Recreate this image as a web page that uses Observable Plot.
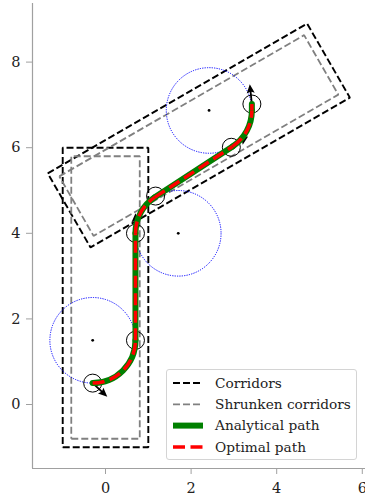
<!DOCTYPE html>
<html><head><meta charset="utf-8">
<script src="https://cdn.jsdelivr.net/npm/d3@7"></script>
<script src="https://cdn.jsdelivr.net/npm/@observablehq/plot@0.6"></script>
<style>
body{margin:0;background:#fff;}
#wrap{position:relative;width:365px;height:502px;overflow:hidden;}
#legend{position:absolute;left:166px;top:369px;width:191px;height:91px;border:1px solid #d4d4d4;border-radius:3px;background:rgba(255,255,255,0.85);box-sizing:border-box;}
</style></head>
<body><div id="wrap"></div>
<script>
// ---- data ----
const xTicks = [0, 2, 4, 6];
const yTicks = [0, 2, 4, 6, 8];
const xDomain = [-1.706, 6.075];
const yDomain = [-1.495, 9.369];

const corridorA = [[-1, -1], [1, -1], [1, 6], [-1, 6], [-1, -1]];
const corridorB = [[-1.35, 5.40], [4.71, 8.90], [5.71, 7.17], [-0.35, 3.67], [-1.35, 5.40]];
const shrunkA = [[-0.8, -0.8], [0.8, -0.8], [0.8, 5.8], [-0.8, 5.8], [-0.8, -0.8]];
const shrunkB = [[-1.08, 5.33], [4.64, 8.63], [5.44, 7.24], [-0.28, 3.94], [-1.08, 5.33]];

const turnCenters = [[-0.3, 1.5], [1.7, 4.0], [2.42, 6.87]];
const turnRadius = 1;

const pathNodes = [[-0.3, 0.5], [0.7, 1.5], [0.7, 4.0], [1.15, 4.84], [2.97, 6.03], [3.42, 6.87], [3.42, 7.02]];
const pathBend = [-45, 0, 28.3, 0, -28.3, 0];

const poses = [[-0.3, 0.5], [0.7, 1.5], [0.7, 4.0], [1.17, 4.87], [2.94, 6.01], [3.42, 7.02]];
const headX = [-0.3, 0.7, 2.94, 3.42];
const headY = [0.5, 4.0, 6.01, 7.02];
const headAngle = [133, 0, 57, -6];

const legendLabels = ["Corridors", "Shrunken corridors", "Analytical path", "Optimal path"];

// ---- layout ----
const W = 365, H = 502, mL = 32, mR = 0, mT = 3, mB = 34;
const k = (W - mL - mR) / (xDomain[1] - xDomain[0]);

const toRows = (arr, id) => arr.map(([x, y]) => ({x, y, id}));
const corridors = [...toRows(corridorA, "a"), ...toRows(corridorB, "b")];
const shrunk = [...toRows(shrunkA, "a"), ...toRows(shrunkB, "b")];
const centers = turnCenters.map(([x, y]) => ({x, y}));
const poseRows = poses.map(([x, y]) => ({x, y}));
const heads = headX.map((x, i) => ({x, y: headY[i], a: headAngle[i]}));
const segs = pathNodes.slice(1).map((p, i) => ({x1: pathNodes[i][0], y1: pathNodes[i][1], x2: p[0], y2: p[1], bend: pathBend[i]}));

const pathMarks = (opts) => segs.map(s => Plot.arrow([s], {x1: "x1", y1: "y1", x2: "x2", y2: "y2", bend: s.bend, headLength: 0, ...opts}));

const quiver = {
  draw(ctx, l) {
    const h = 9, hw = 4, sw = 0.9, n = 7.8;
    ctx.moveTo(-sw, 0);
    ctx.lineTo(-sw, -l + n);
    ctx.lineTo(-hw, -l + h);
    ctx.lineTo(0, -l);
    ctx.lineTo(hw, -l + h);
    ctx.lineTo(sw, -l + n);
    ctx.lineTo(sw, 0);
    ctx.closePath();
  }
};

const chart = Plot.plot({
  width: W, height: H,
  marginLeft: mL, marginRight: mR, marginTop: mT, marginBottom: mB,
  x: {domain: xDomain},
  y: {domain: yDomain},
  style: {fontFamily: "'DejaVu Serif', serif", fontSize: "14px", background: "white", overflow: "visible"},
  marks: [
    Plot.ruleX([xDomain[0]], {stroke: "#a0a0a0", strokeWidth: 1.2}),
    Plot.ruleY([yDomain[0]], {stroke: "#a0a0a0", strokeWidth: 1.2}),
    Plot.axisX(xTicks, {tickSize: 6, tickPadding: 8, stroke: "#a0a0a0", fill: "#222", fontSize: 14.5, label: null}),
    Plot.axisY(yTicks, {tickSize: 6, tickPadding: 6, stroke: "#a0a0a0", fill: "#222", fontSize: 14.5, label: null}),
    Plot.line(corridors, {x: "x", y: "y", z: "id", stroke: "black", strokeWidth: 1.9, strokeDasharray: "7,3", strokeLinejoin: "miter", strokeLinecap: "butt"}),
    Plot.line(shrunk, {x: "x", y: "y", z: "id", stroke: "#808080", strokeWidth: 1.8, strokeDasharray: "7,3", strokeLinejoin: "miter", strokeLinecap: "butt"}),
    Plot.dot(centers, {x: "x", y: "y", r: turnRadius * k, stroke: "#0000ff", fill: "none", strokeWidth: 1, strokeDasharray: "1.2,1.2"}),
    Plot.dot(centers, {x: "x", y: "y", r: 1.4, fill: "black", stroke: "none"}),
    Plot.dot(poseRows, {x: "x", y: "y", r: 9, stroke: "black", fill: "none", strokeWidth: 1}),
    Plot.vector(heads, {x: "x", y: "y", rotate: "a", length: 20, anchor: "start", shape: quiver, fill: "black", stroke: "none"}),
    ...pathMarks({stroke: "green", strokeWidth: 6, strokeLinecap: "round"}),
    ...pathMarks({stroke: "red", strokeWidth: 3.5, strokeDasharray: "12,5.5", strokeLinecap: "butt"})
  ]
});
const wrap = document.getElementById("wrap");
wrap.appendChild(chart);

// ---- legend ----
const legendStyles = [
  {stroke: "black", w: 1.9, dash: "7,3"},
  {stroke: "#808080", w: 1.8, dash: "7,3"},
  {stroke: "green", w: 6, dash: null},
  {stroke: "red", w: 3.5, dash: "12,5.5"}
];
const lg = document.createElement("div");
lg.id = "legend";
wrap.appendChild(lg);
const svg = d3.select(lg).append("svg").attr("width", 189).attr("height", 89);
legendLabels.forEach((t, i) => {
  const cy = 13 + i * 21.3;
  const s = legendStyles[i];
  svg.append("line").attr("x1", 6).attr("x2", 36).attr("y1", cy).attr("y2", cy)
    .attr("stroke", s.stroke).attr("stroke-width", s.w).attr("stroke-dasharray", s.dash);
  svg.append("text").attr("x", 48).attr("y", cy).attr("dy", "0.35em")
    .attr("font-family", "'DejaVu Serif', serif").attr("font-size", 13.7).attr("fill", "#222").text(t);
});
</script>
</body></html>
